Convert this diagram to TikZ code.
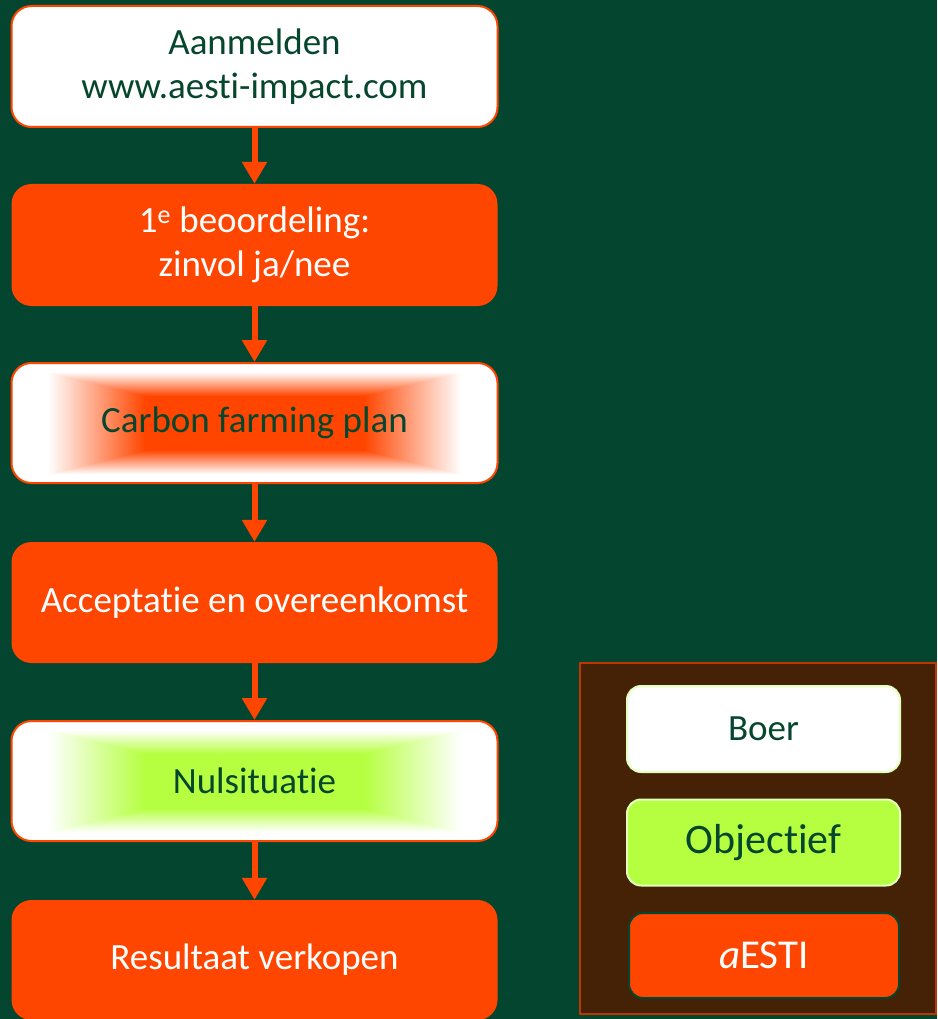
\documentclass[tikz,border=0pt]{standalone}
\usepackage{fontspec}
\setmainfont{Carlito}[Ligatures=NoCommon]
\usetikzlibrary{arrows.meta}
\definecolor{bggreen}{RGB}{4,69,47}
\definecolor{txtgreen}{RGB}{6,70,46}
\definecolor{aorange}{RGB}{255,70,0}
\definecolor{objgreen}{RGB}{181,255,64}
\definecolor{lightrim}{RGB}{226,255,190}
\definecolor{legendbrown}{RGB}{69,34,6}
\definecolor{legendrim}{RGB}{190,55,0}
% rectangular gradients: colour in the middle, white at the rim
\pgfdeclarefunctionalshading{carbonshade}{\pgfpointorigin}{\pgfpoint{100bp}{100bp}}{}{
  50 sub abs 25 div exch 50 sub abs 25 div 2 copy lt {exch} if pop
  0.45 sub 0.4 div dup 0 lt {pop 0} if dup 1 gt {pop 1} if
  1 exch dup 0.73 mul 0.27 add exch
}
\pgfdeclarefunctionalshading{nulshade}{\pgfpointorigin}{\pgfpoint{100bp}{100bp}}{}{
  50 sub abs 25 div exch 50 sub abs 25 div 2 copy lt {exch} if pop
  0.45 sub 0.4 div dup 0 lt {pop 0} if dup 1 gt {pop 1} if
  dup 0.29 mul 0.71 add exch 1 exch 0.75 mul 0.25 add
}
\tikzset{
  stepbox/.style={rounded corners=20pt, minimum width=486pt, align=center,
    font=\fontsize{37}{44}\selectfont, inner sep=0pt},
  boerstep/.style={stepbox, fill=white, draw=aorange, line width=2pt, text=txtgreen},
  aestistep/.style={stepbox, fill=aorange, text=white},
  flowarrow/.style={draw=aorange, line width=6pt, -{Triangle[width=24pt,length=22pt]}},
  legendbox/.style={rounded corners=14pt, minimum width=273pt, minimum height=86pt,
    line width=2pt, inner sep=0pt},
}
\begin{document}
\begin{tikzpicture}[x=1pt,y=-1pt]
\fill[bggreen] (0,0) rectangle (937,1019);
\useasboundingbox (0,0) rectangle (937,1019);

% steps
\node[boerstep, minimum height=121pt] (aanmelden) at (254.5,66.5) {Aanmelden\\www.aesti-impact.com};
\node[aestistep, minimum height=122pt] (beoordeling) at (254.5,245) {1\textsuperscript{e} beoordeling:\\zinvol ja/nee};
\node[boerstep, minimum height=120pt, shade, shading=carbonshade] (carbon) at (254.5,423) {Carbon farming plan};
\node[aestistep, minimum height=121pt] (acceptatie) at (254.5,602.5) {Acceptatie en overeenkomst};
\node[boerstep, minimum height=120pt, shade, shading=nulshade] (nul) at (254.5,781) {Nulsituatie};
\node[aestistep, minimum height=120pt] (resultaat) at (254.5,960) {Resultaat verkopen};

\draw[flowarrow] (aanmelden) -- (beoordeling);
\draw[flowarrow] (beoordeling) -- (carbon);
\draw[flowarrow] (carbon) -- (acceptatie);
\draw[flowarrow] (acceptatie) -- (nul);
\draw[flowarrow] (nul) -- (resultaat);

% legend
\draw[fill=legendbrown, draw=legendrim, line width=2pt] (580,663) rectangle (936,1014);
\node[legendbox, fill=white, draw=lightrim, text=txtgreen, font=\fontsize{37}{40}\selectfont] (boer) at (763.5,729) {Boer};
\node[legendbox, fill=objgreen, draw=lightrim, text=txtgreen, font=\fontsize{42}{40}\selectfont] (objectief) at (763.5,842.5) {Objectief};
\node[legendbox, fill=aorange, draw=bggreen, text=white, minimum width=270pt, minimum height=85pt, font=\fontsize{41}{40}\selectfont] (aesti) at (764,955.5) {\textit{a}ESTI};
\end{tikzpicture}
\end{document}
